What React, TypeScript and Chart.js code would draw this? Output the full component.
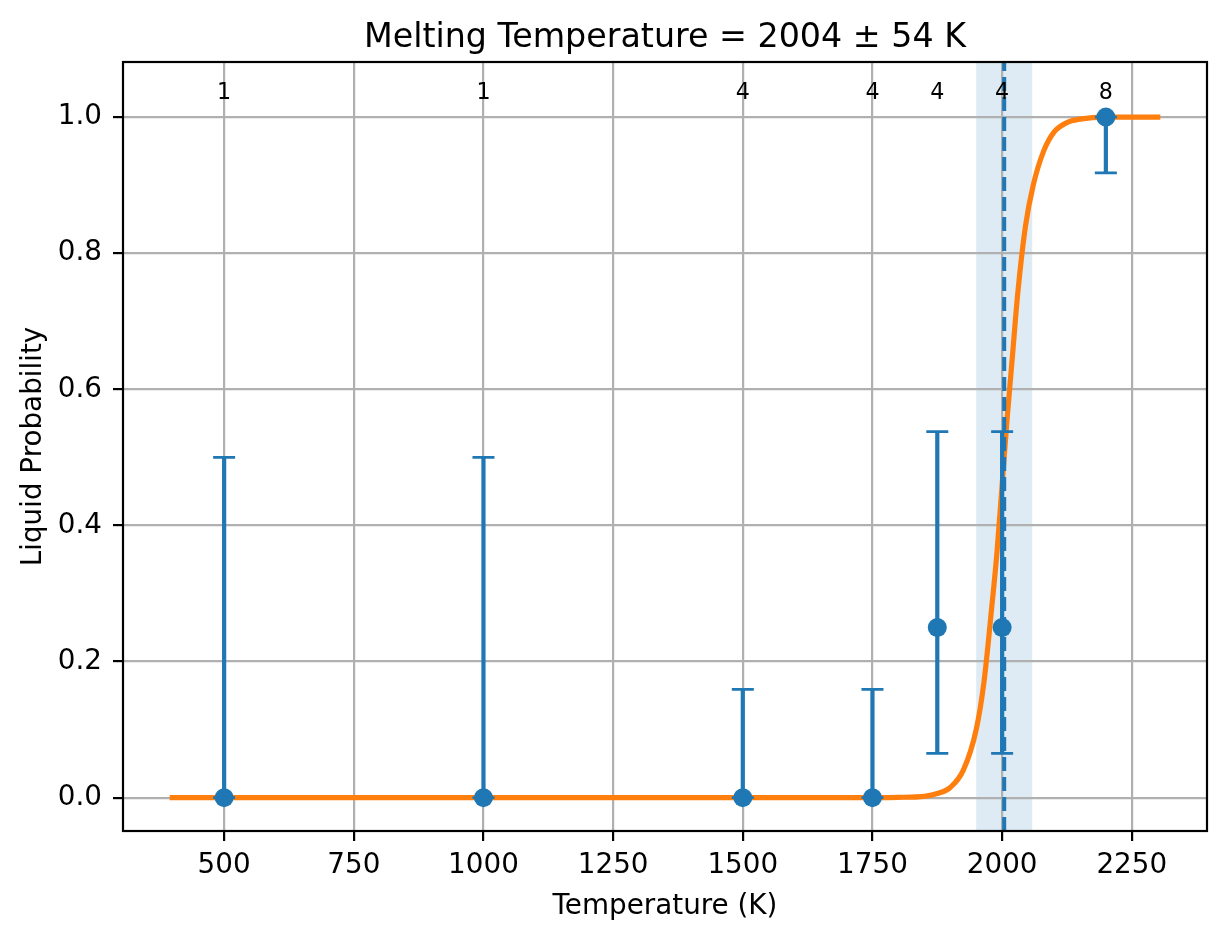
import React, { useEffect, useRef } from "react";
import { Chart, registerables } from "chart.js";

Chart.register(...registerables);

// measured points with binomial error range
const temperatures = [500, 1000, 1500, 1750, 1875, 2000, 2200];
const liquidProb = [0, 0, 0, 0, 0.25, 0.25, 1.0];
const errLower = [0, 0, 0, 0, 0.065, 0.065, 0.918];
const errUpper = [0.5, 0.5, 0.159, 0.159, 0.538, 0.538, 1.0];
const sampleCounts = [1, 1, 4, 4, 4, 4, 8];

// fitted curve
const fitTemps = [
  400, 1700, 1800, 1850, 1875, 1900, 1925, 1950, 1965, 1980, 1990, 2000,
  2010, 2020, 2030, 2045, 2060, 2080, 2100, 2125, 2150, 2200, 2300,
];
const fitProb = [
  0, 0, 0.0005, 0.002, 0.006, 0.015, 0.04, 0.1, 0.17, 0.28, 0.36, 0.46,
  0.56, 0.65, 0.74, 0.84, 0.9, 0.95, 0.978, 0.992, 0.997, 1.0, 1.0,
];

const meltTemp = 2004;
const meltErr = 54;

const xTicks = [500, 750, 1000, 1250, 1500, 1750, 2000, 2250];
const yTicks = [0, 0.2, 0.4, 0.6, 0.8, 1.0];

const C0 = "#1f77b4";
const C1 = "#ff7f0e";
const FONT = "DejaVu Sans";

const overlayPlugin = {
  id: "overlay",
  beforeDraw(chart: any) {
    const { ctx, chartArea: a, scales } = chart;
    const x = scales.x;
    ctx.save();
    ctx.fillStyle = "#fff";
    ctx.fillRect(0, 0, chart.width, chart.height);
    const x0 = x.getPixelForValue(meltTemp - meltErr);
    const x1 = x.getPixelForValue(meltTemp + meltErr);
    ctx.fillStyle = "rgba(31,119,180,0.15)";
    ctx.fillRect(x0, a.top, x1 - x0, a.bottom - a.top);
    ctx.restore();
  },
  afterDatasetsDraw(chart: any) {
    const { ctx, chartArea: a, scales } = chart;
    const { x, y } = scales;
    ctx.save();
    ctx.strokeStyle = C0;
    temperatures.forEach((t, i) => {
      const px = x.getPixelForValue(t);
      const lo = y.getPixelForValue(errLower[i]);
      const hi = y.getPixelForValue(errUpper[i]);
      ctx.lineWidth = 4.2;
      ctx.beginPath();
      ctx.moveTo(px, lo);
      ctx.lineTo(px, hi);
      ctx.stroke();
      ctx.lineWidth = 2.8;
      ctx.beginPath();
      ctx.moveTo(px - 11, lo);
      ctx.lineTo(px + 11, lo);
      ctx.moveTo(px - 11, hi);
      ctx.lineTo(px + 11, hi);
      ctx.stroke();
    });
    // fitted melting point
    const mx = x.getPixelForValue(meltTemp);
    ctx.lineWidth = 4;
    ctx.setLineDash([14, 6]);
    ctx.beginPath();
    ctx.moveTo(mx, a.bottom);
    ctx.lineTo(mx, a.top);
    ctx.stroke();
    ctx.restore();
  },
  afterDraw(chart: any) {
    const { ctx, chartArea: a, scales } = chart;
    const { x, y } = scales;
    ctx.save();
    ctx.strokeStyle = "#000";
    ctx.lineWidth = 2.2;
    ctx.strokeRect(a.left, a.top, a.right - a.left, a.bottom - a.top);

    ctx.fillStyle = "#000";
    ctx.textAlign = "center";
    ctx.textBaseline = "alphabetic";
    const cx = (a.left + a.right) / 2;

    ctx.font = `33.3px "${FONT}"`;
    ctx.fillText(`Melting Temperature = ${meltTemp} ± ${meltErr} K`, cx, 47);

    ctx.font = `27.8px "${FONT}"`;
    ctx.fillText("Temperature (K)", cx, 914);

    ctx.save();
    ctx.translate(41, (a.top + a.bottom) / 2);
    ctx.rotate(-Math.PI / 2);
    ctx.fillText("Liquid Probability", 0, 0);
    ctx.restore();

    ctx.font = `22.2px "${FONT}"`;
    temperatures.forEach((t, i) => {
      ctx.fillText(String(sampleCounts[i]), x.getPixelForValue(t), y.getPixelForValue(1.02) - 5);
    });
    ctx.restore();
  },
};

const MeltingChart: React.FC = () => {
  const canvasRef = useRef<HTMLCanvasElement>(null);
  const chartRef = useRef<Chart | null>(null);

  useEffect(() => {
    document.body.style.margin = "0";
    if (!canvasRef.current) return;
    if (chartRef.current) chartRef.current.destroy();

    Chart.defaults.font.family = FONT;

    const gridOpts = {
      color: "#b0b0b0",
      lineWidth: 2.2,
      tickColor: "#000",
      tickWidth: 2.2,
      tickLength: 10,
    };

    chartRef.current = new Chart(canvasRef.current, {
      type: "scatter",
      data: {
        datasets: [
          {
            label: "fit",
            data: fitTemps.map((t, i) => ({ x: t, y: fitProb[i] })),
            showLine: true,
            borderColor: C1,
            borderWidth: 5.2,
            borderCapStyle: "square",
            pointRadius: 0,
            cubicInterpolationMode: "monotone",
            order: 2,
          },
          {
            label: "data",
            data: temperatures.map((t, i) => ({ x: t, y: liquidProb[i] })),
            backgroundColor: C0,
            borderWidth: 0,
            pointRadius: 9.5,
            order: 1,
          },
        ],
      },
      options: {
        animation: false,
        responsive: true,
        maintainAspectRatio: false,
        layout: { padding: { top: 62, right: 20, left: 0, bottom: 0 } },
        plugins: {
          legend: { display: false },
          title: { display: false },
          tooltip: { enabled: false },
        },
        scales: {
          x: {
            type: "linear",
            min: 305,
            max: 2395,
            afterBuildTicks: (s: any) => {
              s.ticks = xTicks.map((v) => ({ value: v }));
            },
            afterFit: (s: any) => {
              s.height = 108;
            },
            grid: gridOpts,
            border: { display: false },
            ticks: {
              color: "#000",
              font: { size: 27.8 },
              padding: 8,
              maxRotation: 0,
              autoSkip: false,
              callback: (v: any) => String(v),
            },
          },
          y: {
            type: "linear",
            min: -0.049,
            max: 1.081,
            afterBuildTicks: (s: any) => {
              s.ticks = yTicks.map((v) => ({ value: v }));
            },
            afterFit: (s: any) => {
              s.width = 123;
            },
            grid: gridOpts,
            border: { display: false },
            ticks: {
              color: "#000",
              font: { size: 27.8 },
              padding: 11,
              callback: (v: any) => Number(v).toFixed(1),
            },
          },
        },
      } as any,
      plugins: [overlayPlugin],
    });

    return () => {
      if (chartRef.current) {
        chartRef.current.destroy();
        chartRef.current = null;
      }
    };
  }, []);

  return (
    <div style={{ width: "1227px", height: "939px", position: "relative" }}>
      <canvas ref={canvasRef} />
    </div>
  );
};

export default function App() {
  return <MeltingChart />;
}
